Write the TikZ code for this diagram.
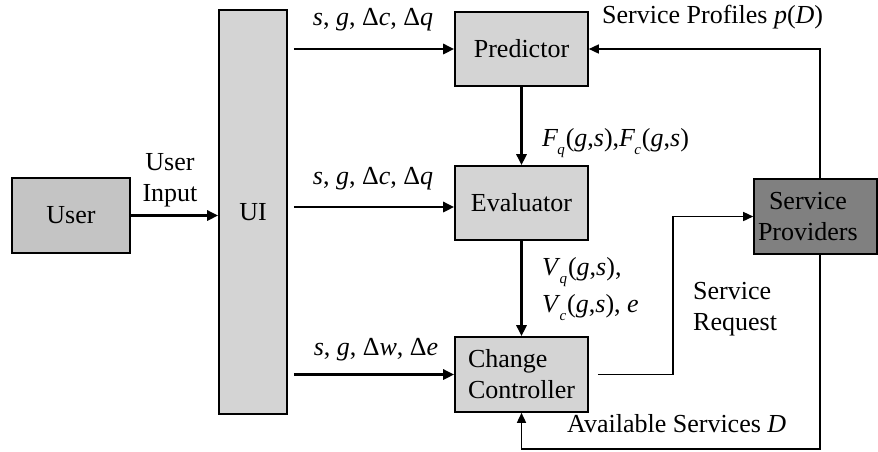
\documentclass[tikz,border=0pt]{standalone}
\usepackage{fontspec}
\setmainfont{LiberationSerif}[Extension=.ttf, UprightFont=*-Regular, ItalicFont=*-Italic, BoldFont=*-Bold, BoldItalicFont=*-BoldItalic]
\usetikzlibrary{arrows.meta}
\definecolor{boxfill}{RGB}{212,212,212}
\definecolor{userfill}{RGB}{196,196,196}
\definecolor{spfill}{RGB}{128,128,128}
\newcommand\iv[1]{\textit{#1}}
\newcommand\sbx[1]{\kern-1pt\raisebox{-0.7ex}{\fontsize{15}{15}\selectfont\textit{#1}}\kern1pt}
\begin{document}
\begin{tikzpicture}[x=1pt,y=-1pt,
  every node/.style={font=\fontsize{26}{31}\selectfont},
  blk/.style={draw, line width=1.6pt, fill=boxfill, inner sep=0pt, align=center},
  lbl/.style={inner sep=0pt},
  bigarrow/.style={line width=2.6pt,-{Triangle[length=11pt,width=10pt]}},
  thinarrow/.style={line width=1.5pt,-{Triangle[length=10pt,width=9pt]}}]
\useasboundingbox (0,0) rectangle (878,451);

\node[blk, fill=userfill, minimum width=118pt, minimum height=75pt] (User) at (71,215.5) {User};
\node[blk, minimum width=68pt, minimum height=404pt] (UI) at (253,212) {UI};
\node[blk, minimum width=133pt, minimum height=74pt] (Pred) at (521.5,49) {Predictor};
\node[blk, minimum width=133pt, minimum height=74pt] (Eval) at (521.5,203) {Evaluator};
\node[blk, minimum width=133pt, minimum height=75pt, align=left] (CC) at (521.5,374.5) {Change\\Controller};
\node[blk, fill=spfill, minimum width=123pt, minimum height=75pt, text width=115pt, align=left] (SP) at (815.5,216.5) {\hspace*{11pt}Service\\Providers};

\coordinate (srx) at (673,0);
\coordinate (bot) at (0,449);

\draw[bigarrow] (User.east) -- (UI.west |- User.east);
\draw[bigarrow] ([xshift=6pt]UI.east |- Pred.west) -- (Pred.west);
\draw[bigarrow] ([xshift=6pt,yshift=-4pt]UI.east |- Eval.west) -- ([yshift=-4pt]Eval.west);
\draw[bigarrow] ([xshift=6pt]UI.east |- CC.west) -- (CC.west);
\draw[bigarrow] (Pred.south) -- (Eval.north);
\draw[bigarrow] (Eval.south) -- (CC.north);

\draw[thinarrow] ([xshift=4.5pt]SP.north) |- (Pred.east);
\draw[thinarrow] ([xshift=4.5pt]SP.south) -- ([xshift=4.5pt]SP.south |- bot) -| (CC.south);
\draw[thinarrow] ([xshift=9pt]CC.east) -| (srx |- SP.west) -- (SP.west);

\node[lbl] (l1) at (373,20) {\iv{s}, \iv{g}, Δ\iv{c}, Δ\iv{q}};
\node[lbl] (l2) at (373,179) {\iv{s}, \iv{g}, Δ\iv{c}, Δ\iv{q}};
\node[lbl] (l3) at (376,350) {\iv{s}, \iv{g}, Δ\iv{w}, Δ\iv{e}};
\node[lbl, align=center] (ui) at (170,180) {User\\Input};
\node[lbl, anchor=west] (fl) at (542,143) {\iv{F}\sbx{q}(\iv{g},\iv{s}),\iv{F}\sbx{c}(\iv{g},\iv{s})};
\node[lbl, anchor=west, align=left] (vl) at (542,289) {\iv{V}\sbx{q}(\iv{g},\iv{s}),\\[6pt]\iv{V}\sbx{c}(\iv{g},\iv{s}), \iv{e}};
\node[lbl, anchor=west, align=left] (sr) at (693,309) {Service\\Request};
\node[lbl, anchor=west] (av) at (567,424) {Available Services \iv{D}};
\node[lbl, anchor=west] (sp) at (602,17) {Service Profiles \iv{p}(\iv{D})};
\end{tikzpicture}
\end{document}
